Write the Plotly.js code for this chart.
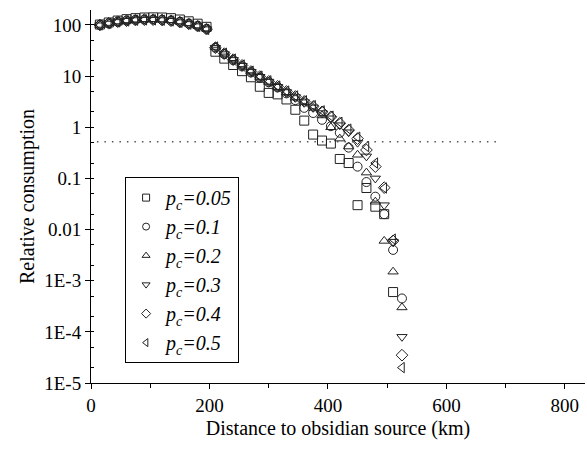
<!DOCTYPE html>
<html>
<head>
<meta charset="utf-8">
<script src="https://cdn.plot.ly/plotly-3.0.1.min.js"></script>
<style>html,body{margin:0;padding:0;background:#fff;}#chart{width:587px;height:451px;}</style>
</head>
<body>
<div id="chart"></div>
<script>
// Distance to obsidian source (km)
const distance = [15,30,45,60,75,90,105,120,135,150,165,180,195,
  210,225,240,255,270,285,300,315,330,345,360,375,390,405,420,435,450,465,480,495,510,525];

const seriesNames = ["0.05","0.1","0.2","0.3","0.4","0.5"];

const pc005 = [102,112,122,130,136,140,141,140,136,128,118,106,92,
  30,22,16.5,12.5,9.5,6.2,4.7,4.4,3.5,2.2,1.35,0.72,0.55,0.48,0.24,0.2,0.03,0.065,0.028,0.02,6e-4,null];
const pc01 = [100,108,116,122,126,128,128,126,122,115,106,96,84,
  36,27,20.5,15.5,11.8,9.3,7.6,6.0,4.6,3.4,2.4,1.9,1.4,1.05,0.78,0.4,0.17,0.085,0.044,0.02,0.004,4.5e-4];
const pc02 = [100,109,117,123,127,129,129,127,123,116,107,97,85,
  37,27.5,21,16,12.2,9.6,7.7,6.1,4.8,3.8,3.1,2.4,1.7,1.0,0.6,0.42,0.29,0.13,0.035,0.006,0.0015,3e-4];
const pc03 = [99,107,115,121,125,127,127,125,121,114,105,95,83,
  36,27,20.8,16,12.2,9.7,7.8,6.2,4.9,3.9,3.1,2.45,1.9,1.5,1.1,0.8,0.5,0.27,0.1,0.03,0.0058,8e-5];
const pc04 = [100,108,116,121,125,127,127,125,121,114,105,95,83,
  36,27.5,21,16.2,12.3,9.8,7.9,6.3,5.0,4.0,3.2,2.55,2.0,1.6,1.2,0.88,0.6,0.36,0.17,0.066,0.006,3.5e-5];
const pc05 = [100,108,115,120,124,126,126,124,120,113,104,94,82,
  37,28,21.5,16.5,12.5,10,8.1,6.4,5.1,4.1,3.3,2.65,2.1,1.65,1.25,0.92,0.64,0.42,0.2,0.065,0.0065,2e-5];

const yTickVals = [100,10,1,0.1,0.01,0.001,0.0001,0.00001];
const yTickText = ["100","10","1","0.1","0.01","1E-3","1E-4","1E-5"];
const thresholdValue = 0.52;
const thresholdRange = [10, 690];

const values = [pc005, pc01, pc02, pc03, pc04, pc05];
const symbols = ["square-open","circle-open","triangle-up-open","triangle-down-open","diamond-open","triangle-left-open"];
const serif = "Liberation Serif";

const traces = [];
values.forEach((v, i) => {
  traces.push({
    x: distance, y: v, type: "scatter", mode: "markers",
    showlegend: false, legendgroup: "g" + i,
    marker: {symbol: symbols[i], size: 9, color: "#222", line: {width: 1, color: "#222"}}
  });
});
// legend entries (smaller symbols, as in the reference legend)
values.forEach((v, i) => {
  traces.push({
    x: [null], y: [null], type: "scatter", mode: "markers",
    legendgroup: "g" + i,
    name: "<i>p</i><sub><i>c</i></sub><i>=" + seriesNames[i] + "</i>",
    marker: {symbol: symbols[i], size: 7, color: "#222", line: {width: 1, color: "#222"}}
  });
});

const layout = {
  width: 587, height: 451,
  margin: {l: 91, r: 2, t: 10, b: 68},
  paper_bgcolor: "#fff", plot_bgcolor: "#fff",
  font: {family: serif, size: 18, color: "#000"},
  showlegend: true,
  legend: {
    x: 0.069, y: 0.552, xanchor: "left", yanchor: "top",
    bordercolor: "#000", borderwidth: 1, bgcolor: "#fff",
    font: {family: serif, size: 20, color: "#000"},
    tracegroupgap: 0
  },
  xaxis: {
    range: [0, 834], showline: true, linecolor: "#000", linewidth: 1,
    zeroline: false, showgrid: false,
    ticks: "outside", ticklen: 5, tickcolor: "#000", dtick: 200, tick0: 0,
    minor: {ticks: "outside", ticklen: 4, dtick: 100, tickcolor: "#000", showgrid: false},
    tickfont: {family: serif, size: 19},
    title: {text: "Distance to obsidian source (km)", font: {family: serif, size: 20}, standoff: 6}
  },
  yaxis: {
    type: "log", range: [-5, 2.293], showline: true, linecolor: "#000", linewidth: 1,
    zeroline: false, showgrid: false,
    ticks: "outside", ticklen: 5, tickcolor: "#000",
    tickvals: yTickVals, ticktext: yTickText,
    minor: {ticks: "inside", ticklen: 3, tickcolor: "#000", showgrid: false},
    tickfont: {family: serif, size: 19},
    title: {text: "Relative consumption", font: {family: serif, size: 20}, standoff: 4}
  },
  shapes: [{
    type: "line", xref: "x", yref: "y",
    x0: thresholdRange[0], x1: thresholdRange[1], y0: thresholdValue, y1: thresholdValue,
    line: {color: "#555", width: 1.5, dash: "1.5px,6px"}
  }]
};

Plotly.newPlot("chart", traces, layout, {displayModeBar: false, staticPlot: true});
</script>
</body>
</html>
